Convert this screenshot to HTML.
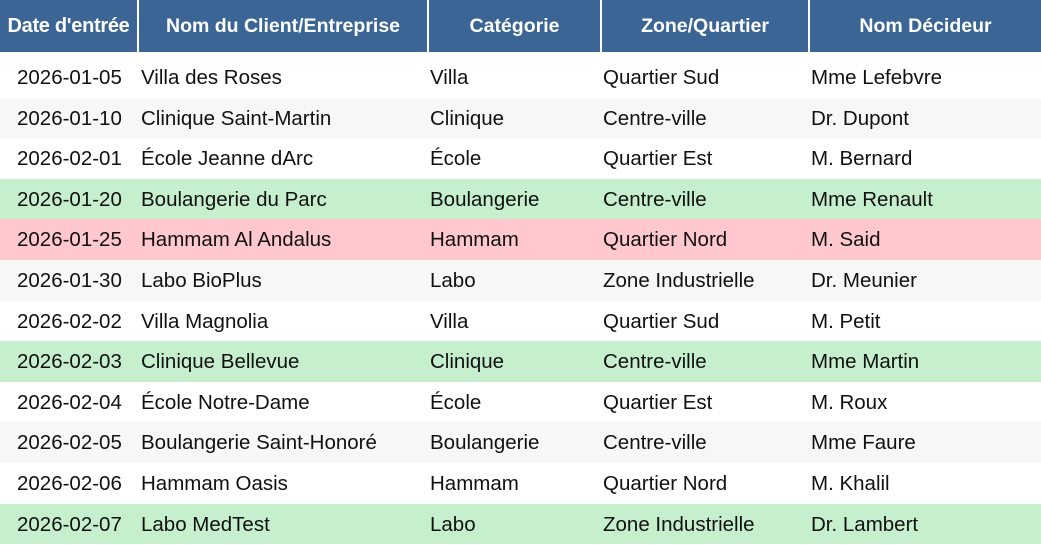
<!DOCTYPE html>
<html><head><meta charset="utf-8"><style>
body{margin:0;width:1041px;height:540px;overflow:hidden;background:#fff;font-family:"Liberation Sans",sans-serif;}
.h{position:absolute;top:0;height:52px;background:#3b6595;color:#fff;font-weight:bold;font-size:19.5px;display:flex;align-items:center;justify-content:center;white-space:nowrap;}
.r{position:absolute;left:0;width:1041px;height:40.6px;font-size:20.5px;color:#111;}
.r span{position:absolute;top:1px;line-height:40.6px;white-space:nowrap;}
.g{background:#f7f7f7}.gr{background:#c6efce}.rd{background:#ffc7ce}
</style></head><body>
<div class="h" style="left:0;width:137px;letter-spacing:-0.3px;font-size:20px">Date d'entrée</div>
<div class="h" style="left:139px;width:288px">Nom du Client/Entreprise</div>
<div class="h" style="left:429px;width:171px">Catégorie</div>
<div class="h" style="left:602px;width:206px">Zone/Quartier</div>
<div class="h" style="left:810px;width:231px">Nom Décideur</div>
<div id="rows"></div>
<script>
var d=[["2026-01-05","Villa des Roses","Villa","Quartier Sud","Mme Lefebvre",""],
["2026-01-10","Clinique Saint-Martin","Clinique","Centre-ville","Dr. Dupont","g"],
["2026-02-01","École Jeanne dArc","École","Quartier Est","M. Bernard",""],
["2026-01-20","Boulangerie du Parc","Boulangerie","Centre-ville","Mme Renault","gr"],
["2026-01-25","Hammam Al Andalus","Hammam","Quartier Nord","M. Said","rd"],
["2026-01-30","Labo BioPlus","Labo","Zone Industrielle","Dr. Meunier","g"],
["2026-02-02","Villa Magnolia","Villa","Quartier Sud","M. Petit",""],
["2026-02-03","Clinique Bellevue","Clinique","Centre-ville","Mme Martin","gr"],
["2026-02-04","École Notre-Dame","École","Quartier Est","M. Roux",""],
["2026-02-05","Boulangerie Saint-Honoré","Boulangerie","Centre-ville","Mme Faure","g"],
["2026-02-06","Hammam Oasis","Hammam","Quartier Nord","M. Khalil",""],
["2026-02-07","Labo MedTest","Labo","Zone Industrielle","Dr. Lambert","gr"]];
var xs=[17,141,430,603,811],h="";
d.forEach(function(r,i){h+='<div class="r '+r[5]+'" style="top:'+(57+i*40.6)+'px">';
for(var j=0;j<5;j++)h+='<span style="left:'+xs[j]+'px">'+r[j]+'</span>';h+='</div>';});
document.getElementById('rows').innerHTML=h;
</script>
</body></html>
